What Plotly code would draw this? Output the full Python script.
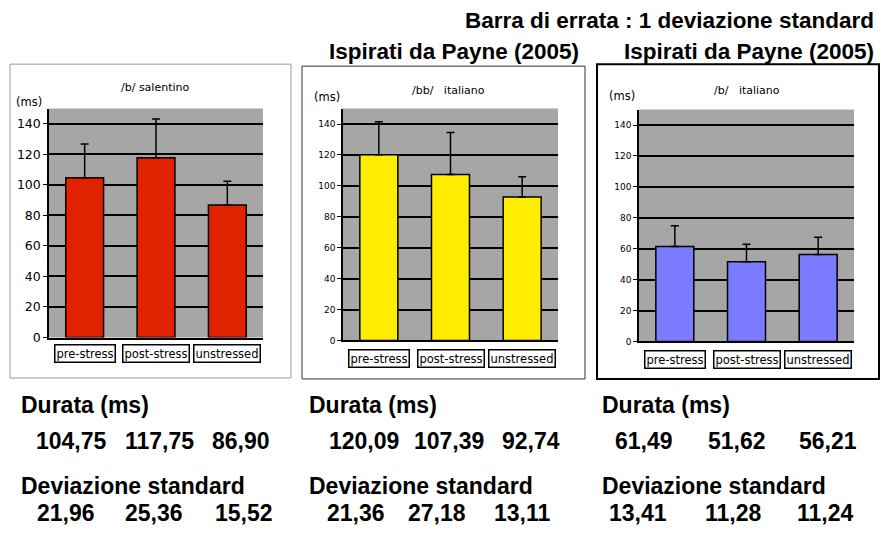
import plotly.graph_objects as go

W, H = 881, 534

categories = ["pre-stress", "post-stress", "unstressed"]
panel_titles = ["/b/ salentino", "/bb/   italiano", "/b/   italiano"]
means_b_salentino = [104.75, 117.75, 86.90]
means_bb_italiano = [120.09, 107.39, 92.74]
means_b_italiano = [61.49, 51.62, 56.21]
sd_b_salentino = [21.96, 25.36, 15.52]
sd_bb_italiano = [21.36, 27.18, 13.11]
sd_b_italiano = [13.41, 11.28, 11.24]
y_ticks = [0, 20, 40, 60, 80, 100, 120, 140]

means = [means_b_salentino, means_bb_italiano, means_b_italiano]
sds = [sd_b_salentino, sd_bb_italiano, sd_b_italiano]
colors = ["#e02200", "#ffec00", "#7b7bff"]

def px(x):
    return x / W

def py(y):
    return 1 - y / H

# plot-area pixel boxes (x0, x1, ytop, ybottom)
areas = [(49, 263, 110, 342), (343, 558, 110, 345), (639, 854, 111, 346)]
tick_sizes = [12.5, 9, 9]

fig = go.Figure()
for i in range(3):
    xa = "x" if i == 0 else f"x{i+1}"
    ya = "y" if i == 0 else f"y{i+1}"
    fig.add_trace(go.Bar(
        x=categories, y=means[i], xaxis=xa, yaxis=ya,
        marker=dict(color=colors[i], line=dict(color="black", width=1.5)),
        width=0.53,
        error_y=dict(type="data", symmetric=False, array=sds[i],
                     arrayminus=[0, 0, 0], color="black", thickness=1.5, width=4),
        showlegend=False, hoverinfo="skip",
    ))
    x0, x1, yt, yb = areas[i]
    suffix = "" if i == 0 else str(i + 1)
    fig.layout["xaxis" + suffix] = dict(
        domain=[px(x0), px(x1)], anchor=ya, showticklabels=False, ticks="",
        showline=True, linecolor="black", linewidth=1.5, showgrid=False,
        range=[-0.5, 2.5], fixedrange=True,
    )
    fig.layout["yaxis" + suffix] = dict(
        domain=[py(yb), py(yt)], anchor=xa, range=[0, 150],
        tickvals=y_ticks, ticks="outside", ticklen=4, tickcolor="black",
        showline=True, linecolor="black", linewidth=1.5,
        showgrid=True, gridcolor="black", gridwidth=1.5, zeroline=False,
        tickfont=dict(family="DejaVu Sans", size=tick_sizes[i], color="black"),
        fixedrange=True,
    )

shapes = []
# panel frames
shapes.append(dict(type="rect", xref="paper", yref="paper", x0=px(10), x1=px(291),
                   y0=py(383), y1=py(65), line=dict(color="#9a9a9a", width=1)))
shapes.append(dict(type="rect", xref="paper", yref="paper", x0=px(302), x1=px(585),
                   y0=py(384), y1=py(67), line=dict(color="#333333", width=1)))
shapes.append(dict(type="rect", xref="paper", yref="paper", x0=px(597), x1=px(879),
                   y0=py(384), y1=py(65), line=dict(color="black", width=2)))
# plot backgrounds
for (x0, x1, yt, yb) in areas:
    shapes.append(dict(type="rect", xref="paper", yref="paper", x0=px(x0), x1=px(x1),
                       y0=py(yb), y1=py(yt), fillcolor="#a6a6a6",
                       line=dict(width=0), layer="below"))
fig.update_layout(shapes=shapes)

ann = []

def txt(text, x, y, font, xanchor="center", **kw):
    d = dict(text=text, x=px(x), y=py(y), xref="paper", yref="paper",
             xanchor=xanchor, yanchor="middle", showarrow=False, font=font)
    d.update(kw)
    ann.append(d)

small = dict(family="DejaVu Sans", size=11, color="black")
title_pos = [(155, 89), (448, 92), (747, 92)]
ms_pos = [(29, 103), (327, 98), (622, 97)]
label_y = [358, 363, 364]
for i in range(3):
    txt(panel_titles[i], title_pos[i][0], title_pos[i][1], small)
    txt("(ms)", ms_pos[i][0], ms_pos[i][1], dict(family="DejaVu Sans", size=11.5, color="black"))
    xa = "x" if i == 0 else f"x{i+1}"
    for c in categories:
        ann.append(dict(text=c, x=c, xref=xa, y=py(label_y[i]), yref="paper",
                        xanchor="center", yanchor="middle",
                        showarrow=False, bgcolor="white", bordercolor="black",
                        borderwidth=1.5, borderpad=1,
                        font=dict(family="DejaVu Sans", size=11.5, color="black")))

big = "Liberation Sans"
tf = dict(family=big, size=22.5, color="black")
txt("<b>Barra di errata : 1 deviazione standard</b>", 876, 21, tf, xanchor="right")
for xr in (581, 876):
    txt("<b>Ispirati da Payne (2005)</b>", xr, 52, tf, xanchor="right")

col_x = [19, 307, 600]
mean_x = [[34, 123, 210], [327, 412, 500], [613, 706, 797]]
sd_x = [[35, 123, 213], [325, 406, 492], [607, 703, 795]]
fmt = lambda v: f"{v:.2f}".replace(".", ",")
bf = dict(family=big, size=23, color="black")
for i in range(3):
    txt("<b>Durata (ms)</b>", col_x[i], 410, bf, xanchor="left")
    txt("<b>Deviazione standard</b>", col_x[i], 492, bf, xanchor="left")
    for j in range(3):
        txt("<b>" + fmt(means[i][j]) + "</b>", mean_x[i][j], 447, bf, xanchor="left")
        txt("<b>" + fmt(sds[i][j]) + "</b>", sd_x[i][j], 520, bf, xanchor="left")

fig.update_layout(annotations=ann, width=W, height=H,
                  margin=dict(l=0, r=0, t=0, b=0),
                  paper_bgcolor="white", plot_bgcolor="rgba(0,0,0,0)",
                  bargap=0.47)
fig.write_html("out.html", config={"displayModeBar": False},
               post_script="document.body.style.margin='0px';")
